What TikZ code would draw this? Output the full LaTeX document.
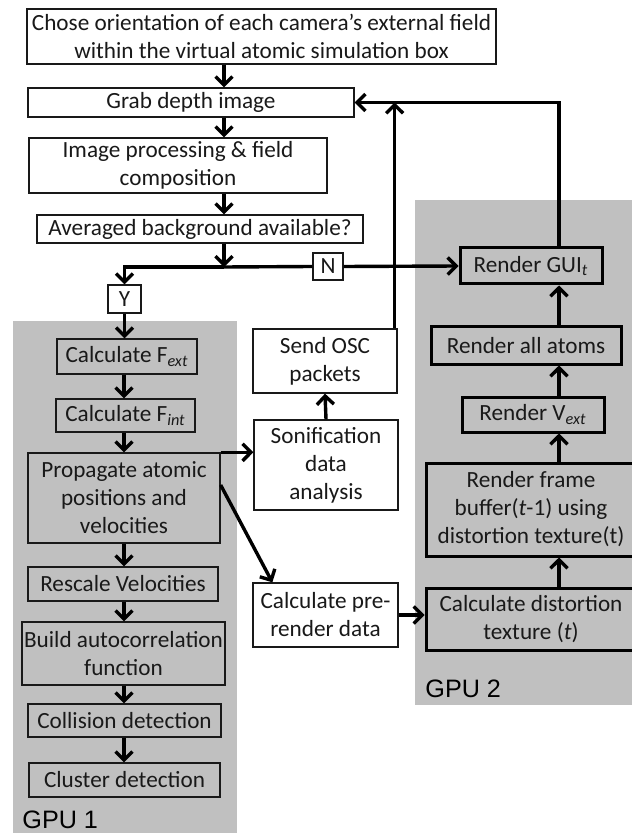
\documentclass[tikz,border=0pt]{standalone}
\usepackage{fontspec}
\setmainfont{Carlito}
\newfontfamily\gpufont{Liberation Sans}
\usetikzlibrary{arrows.meta,calc}
\definecolor{gpugray}{RGB}{192,192,192}
\definecolor{inkgray}{RGB}{25,25,25}

\begin{document}
\begin{tikzpicture}[x=0.5pt,y=-0.5pt,
  sz/.style 2 args={minimum width=#1*0.5pt,minimum height=#2*0.5pt},
  every node/.style={inner sep=0pt,align=center,text=inkgray,font=\fontsize{11.6}{14}\selectfont},
  box/.style={draw=inkgray,line width=0.65pt,fill=white},
  gbox/.style={draw=inkgray,line width=0.65pt},
  tbox/.style={draw=black,line width=1.5pt},
  arr/.style={-{Straight Barb[length=4.2pt,width=8.5pt]},line width=1.7pt,black},
  ln/.style={line width=1.7pt,black}]
  \useasboundingbox (0,0) rectangle (631,833);

  % GPU regions
  \fill[gpugray] (13,321) rectangle (237,845);
  \fill[gpugray] (415,200) rectangle (640,705);
  \node[anchor=base west,font=\gpufont\fontsize{12.6}{14}\selectfont,text=black] (gpu1) at (22,828) {GPU 1};
  \node[anchor=base west,font=\gpufont\fontsize{12.6}{14}\selectfont,text=black] (gpu2) at (425,697) {GPU 2};

  % main column
  \node[box,sz={469}{55}] (chose) at (261.5,36.5) {Chose orientation of each camera’s external field\\within the virtual atomic simulation box};
  \node[box,sz={326}{29}] (grab) at (191,102.5) {Grab depth image};
  \node[box,sz={298}{55}] (improc) at (178,165.5) {Image processing \& field\\composition};
  \node[box,sz={326}{28}] (avg) at (200,229) {Averaged background available?};
  \node[box,sz={30}{27}] (nbox) at (328,266.5) {N};
  \node[box,sz={33}{28}] (ybox) at (124.5,299) {Y};
  \coordinate (spine) at (224,0);
  \coordinate (split) at (224,267);

  % GPU 1
  \node[gbox,sz={140}{35}] (fext) at (127,356.5) {Calculate F\textsubscript{\itshape ext}};
  \node[gbox,sz={139}{33}] (fint) at (125.5,415.5) {Calculate F\textsubscript{\itshape int}};
  \node[gbox,sz={192}{90}] (prop) at (124,498) {Propagate atomic\\positions and\\velocities};
  \node[gbox,sz={190}{34}] (rescale) at (123,584) {Rescale Velocities};
  \node[gbox,sz={203}{63}] (build) at (123.5,653.5) {Build autocorrelation\\function};
  \node[gbox,sz={193}{33}] (collide) at (124.5,720.5) {Collision detection};
  \node[gbox,sz={191}{34}] (cluster) at (124.5,780) {Cluster detection};
  \coordinate (col1) at (124,0);

  % middle column
  \node[box,sz={144}{64}] (osc) at (325,361) {Send OSC\\packets};
  \node[box,sz={144}{90}] (sonif) at (326,465) {Sonification\\data\\analysis};
  \node[box,sz={145}{64}] (prerender) at (325.5,615) {Calculate pre-\\render data};

  % GPU 2
  \node[tbox,sz={142}{36}] (gui) at (531,266) {Render GUI\textsubscript{\itshape t}};
  \node[tbox,sz={190}{37}] (atoms) at (526,345.5) {Render all atoms};
  \node[tbox,sz={142}{35}] (vext) at (533,414.5) {Render V\textsubscript{\itshape ext}};
  \node[tbox,sz={210}{93}] (frame) at (531,509.5) {Render frame\\buffer(\textit{t}-1) using\\distortion texture(t)};
  \node[tbox,sz={210}{62}] (distort) at (531,619) {Calculate distortion\\texture (\textit{t})};
  \coordinate (col2) at (559,0);

  % connectors
  \draw[arr] (chose.south -| spine) -- (grab.north -| spine);
  \draw[arr] (grab.south -| spine) -- (improc.north -| spine);
  \draw[arr] (improc.south -| spine) -- (avg.north -| spine);
  \draw[arr] (avg.south -| spine) -- (split);
  \draw[arr] (split) -- (split -| ybox) -- (ybox.north);
  \draw[ln] (split) -- (nbox.west);
  \draw[arr] (nbox.east) -- (gui.west);
  \draw[arr] (ybox.south) -- (fext.north -| ybox);
  \draw[arr] (fext.south -| col1) -- (fint.north -| col1);
  \draw[arr] (fint.south -| col1) -- (prop.north -| col1);
  \draw[arr] (prop.south -| col1) -- (rescale.north -| col1);
  \draw[arr] (rescale.south -| col1) -- (build.north -| col1);
  \draw[arr] (build.south -| col1) -- (collide.north -| col1);
  \draw[arr] (collide.south -| col1) -- (cluster.north -| col1);
  \draw[arr] (prop.north east) -- (prop.north east -| sonif.west);
  \draw[arr] ([yshift=6.5pt]prop.east) -- ([xshift=10pt]prerender.north west);
  \draw[arr] (sonif.north) -- (osc.south);
  \draw[arr] ([xshift=-1.5pt]osc.north east) -- ([xshift=-1.5pt]osc.north east |- grab.east);
  \draw[arr] (prerender.east) -- (prerender.east -| distort.west);
  \draw[arr] (distort.north -| col2) -- (frame.south -| col2);
  \draw[arr] (frame.north -| col2) -- (vext.south -| col2);
  \draw[arr] (vext.north -| col2) -- (atoms.south -| col2);
  \draw[arr] (atoms.north -| col2) -- (gui.south -| col2);
  \draw[arr] (gui.north -| col2) -- (col2 |- grab.east) -- (grab.east);
\end{tikzpicture}
\end{document}
